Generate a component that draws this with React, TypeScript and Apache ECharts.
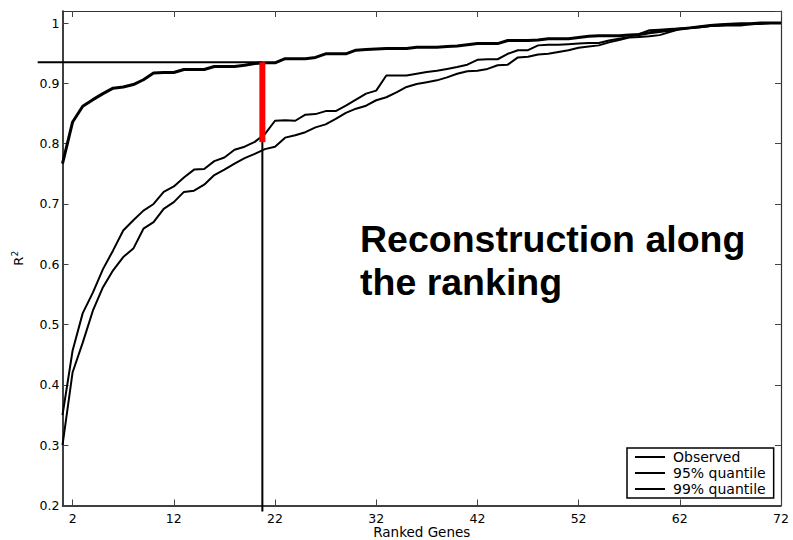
import React, { useEffect, useRef } from "react";
import * as echarts from "echarts";

const observed = [
  0.767, 0.836, 0.862, 0.873, 0.883, 0.892, 0.894, 0.898, 0.906, 0.917,
  0.918, 0.918, 0.923, 0.923, 0.923, 0.928, 0.928, 0.928, 0.930, 0.933,
  0.934, 0.934, 0.941, 0.941, 0.941, 0.943, 0.949, 0.949, 0.949, 0.955,
  0.956, 0.957, 0.958, 0.958, 0.958, 0.960, 0.960, 0.960, 0.961, 0.962,
  0.964, 0.966, 0.966, 0.966, 0.971, 0.971, 0.971, 0.972, 0.974, 0.974,
  0.974, 0.976, 0.978, 0.979, 0.979, 0.979, 0.980, 0.981, 0.984, 0.986,
  0.988, 0.990, 0.992, 0.994, 0.996, 0.997, 0.998, 0.999, 0.999, 1.0,
  1.0, 1.0,
];

const q99 = [
  0.350, 0.457, 0.519, 0.553, 0.592, 0.623, 0.656, 0.673, 0.689, 0.700,
  0.720, 0.729, 0.744, 0.757, 0.758, 0.771, 0.777, 0.790, 0.795, 0.803,
  0.816, 0.838, 0.839, 0.838, 0.848, 0.849, 0.854, 0.854, 0.863, 0.873,
  0.883, 0.888, 0.913, 0.913, 0.913, 0.916, 0.919, 0.921, 0.924, 0.927,
  0.931, 0.939, 0.940, 0.940, 0.949, 0.955, 0.955, 0.963, 0.964, 0.964,
  0.965, 0.966, 0.967, 0.967, 0.971, 0.974, 0.977, 0.982, 0.988, 0.989,
  0.990, 0.991, 0.992, 0.994, 0.995, 0.996, 0.997, 0.998, 0.999, 0.999,
  1.0, 1.0,
];

const q95 = [
  0.300, 0.421, 0.470, 0.523, 0.562, 0.590, 0.612, 0.626, 0.659, 0.670,
  0.692, 0.703, 0.720, 0.722, 0.732, 0.748, 0.757, 0.767, 0.776, 0.783,
  0.791, 0.795, 0.810, 0.814, 0.819, 0.827, 0.832, 0.841, 0.851, 0.858,
  0.863, 0.872, 0.877, 0.885, 0.894, 0.899, 0.902, 0.905, 0.910, 0.916,
  0.920, 0.921, 0.924, 0.930, 0.931, 0.943, 0.944, 0.948, 0.949, 0.952,
  0.955, 0.959, 0.961, 0.963, 0.968, 0.972, 0.976, 0.977, 0.978, 0.980,
  0.985, 0.990, 0.992, 0.993, 0.995, 0.996, 0.996, 0.996, 0.998, 0.999,
  1.0, 1.0,
];

const ranks = observed.map((_, i) => i + 1);
const xTicks = [2, 12, 22, 32, 42, 52, 62, 72];
const legendNames = ["Observed", "95% quantile", "99% quantile"];

const threshold = 0.935;
const cutRank = 20.75;
const barBottom = 0.8025;
const hLineStart = -1.45;
const vLineEnd = 0.19;

const tickFont = { fontFamily: "DejaVu Sans", fontSize: 12.5, lineHeight: 13, color: "#000" };

export default function App() {
  const ref = useRef<HTMLDivElement>(null);
  useEffect(() => {
    if (!ref.current) return;
    const chart = echarts.init(ref.current, undefined, { renderer: "svg" });
    const pairs = (arr: number[]) => ranks.map((r, i) => [r, arr[i]]);
    chart.setOption({
      animation: false,
      backgroundColor: "#fff",
      grid: { left: 62.5, right: 12, top: 11, bottom: 34.5, outerBoundsMode: "none", containLabel: false },
      legend: {
        data: legendNames,
        orient: "vertical",
        left: 627,
        top: 448,
        itemWidth: 30,
        itemHeight: 14,
        itemGap: 2,
        padding: [2, 8, 2, 7],
        borderColor: "#000",
        borderWidth: 1.5,
        backgroundColor: "#fff",
        selectedMode: false,
        itemStyle: { opacity: 0 },
        textStyle: { fontFamily: "DejaVu Sans", fontSize: 14, color: "#000", padding: [0, 0, 0, 3] },
      },
      xAxis: [
        {
          type: "value",
          min: 1,
          max: 72,
          axisLine: { show: true, lineStyle: { color: "#000", width: 1.5 } },
          axisTick: { show: true, inside: true, length: 6, customValues: xTicks, lineStyle: { color: "#444" } },
          axisLabel: { customValues: xTicks, margin: 6, ...tickFont },
          splitLine: { show: false },
          name: "Ranked Genes",
          nameLocation: "middle",
          nameGap: 20,
          nameMoveOverlap: false,
          nameTextStyle: { fontFamily: "DejaVu Sans", fontSize: 13.5, lineHeight: 13, color: "#000" },
        },
        {
          type: "value",
          position: "top",
          min: 1,
          max: 72,
          axisLine: { show: true, lineStyle: { color: "#333", width: 1.2 } },
          axisTick: { show: true, inside: true, length: 6, customValues: xTicks, lineStyle: { color: "#444" } },
          axisLabel: { show: false },
          splitLine: { show: false },
        },
      ],
      yAxis: [
        {
          type: "value",
          min: 0.2,
          max: 1.02,
          interval: 0.1,
          axisLine: { show: true, lineStyle: { color: "#000", width: 1.5 } },
          axisTick: { show: true, inside: true, length: 6, lineStyle: { color: "#444" } },
          axisLabel: { showMaxLabel: false, margin: 3, ...tickFont },
          splitLine: { show: false },
          name: "{a|R}{b|2}",
          nameLocation: "middle",
          nameGap: 36,
          nameMoveOverlap: false,
          nameTextStyle: {
            fontFamily: "DejaVu Sans",
            color: "#000",
            rich: {
              a: { fontFamily: "DejaVu Sans", fontSize: 13, color: "#000" },
              b: { fontFamily: "DejaVu Sans", fontSize: 9, color: "#000", padding: [0, 0, 7, 0] },
            },
          },
        },
        {
          type: "value",
          position: "right",
          min: 0.2,
          max: 1.02,
          interval: 0.1,
          axisLine: { show: true, lineStyle: { color: "#333", width: 1.2 } },
          axisTick: { show: true, inside: true, length: 6, lineStyle: { color: "#444" } },
          axisLabel: { show: false },
          splitLine: { show: false },
        },
      ],
      series: [
        {
          name: "95% quantile",
          type: "line",
          data: pairs(q95),
          symbol: "none",
          silent: true,
          lineStyle: { color: "#000", width: 2 },
          itemStyle: { color: "#000" },
        },
        {
          name: "99% quantile",
          type: "line",
          data: pairs(q99),
          symbol: "none",
          silent: true,
          lineStyle: { color: "#000", width: 2 },
          itemStyle: { color: "#000" },
        },
        {
          name: "Observed",
          type: "line",
          data: pairs(observed),
          symbol: "none",
          silent: true,
          lineStyle: { color: "#000", width: 3 },
          itemStyle: { color: "#000" },
        },
        {
          name: "vline",
          type: "line",
          data: [[cutRank, threshold], [cutRank, vLineEnd]],
          symbol: "none",
          clip: false,
          silent: true,
          lineStyle: { color: "#000", width: 2 },
        },
        {
          name: "gap",
          type: "line",
          data: [[cutRank, threshold], [cutRank, barBottom]],
          symbol: "none",
          clip: false,
          silent: true,
          z: 10,
          lineStyle: { color: "#ff0000", width: 6, cap: "butt" },
        },
      ],
    });
    const p0 = chart.convertToPixel({ gridIndex: 0 }, [hLineStart, threshold]) as number[];
    const p1 = chart.convertToPixel({ gridIndex: 0 }, [cutRank, threshold]) as number[];
    chart.setOption({
      graphic: [
        {
          type: "line",
          silent: true,
          z: 5,
          shape: { x1: p0[0], y1: p0[1], x2: p1[0], y2: p1[1] },
          style: { stroke: "#000", lineWidth: 2 },
        },
        {
          type: "text",
          left: 360,
          top: 217,
          silent: true,
          style: {
            text: "Reconstruction along\nthe ranking",
            font: 'bold 37.5px "Liberation Sans", Arial, sans-serif',
            fill: "#000",
            lineHeight: 43,
          },
        },
      ],
    });
    return () => chart.dispose();
  }, []);
  return <div ref={ref} style={{ width: 793, height: 540, position: "absolute", left: 0, top: 0 }} />;
}
